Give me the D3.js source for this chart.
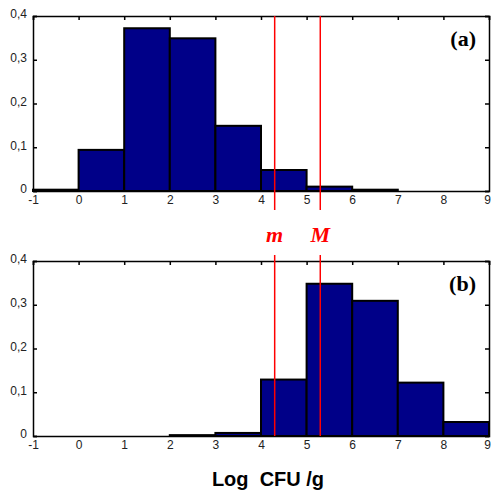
<!DOCTYPE html>
<html><head><meta charset="utf-8">
<script src="https://cdn.jsdelivr.net/npm/d3@7"></script>
<style>body{margin:0;background:#fff}svg{display:block}</style>
</head><body>
<script>
const binStarts = [-1,0,1,2,3,4,5,6,7,8];
const valuesA = [0.003,0.094,0.372,0.349,0.149,0.048,0.010,0.003,0,0];
const valuesB = [0,0,0,0.002,0.007,0.129,0.348,0.309,0.122,0.032];
const xTicks = [-1,0,1,2,3,4,5,6,7,8,9];
const xTickLabels = ["-1","0","1","2","3","4","5","6","7","8","9"];
const yTicks = [0,0.1,0.2,0.3,0.4];
const yTickLabels = ["0","0,1","0,2","0,3","0,4"];
const limits = [{name:"m", value:4.3},{name:"M", value:5.3}];
const panelLabels = ["(a)","(b)"];
const xTitle = "Log\u00a0 CFU /g";

const W=491,H=490;
const svg=d3.select("body").append("svg").attr("width",W).attr("height",H);
const x=d3.scaleLinear().domain([-1,9]).range([33,489]);
const panels=[{vals:valuesA,top:16,bottom:191,label:panelLabels[0]},
              {vals:valuesB,top:261,bottom:436,label:panelLabels[1]}];

panels.forEach(p=>{
  const y=d3.scaleLinear().domain([0,0.4]).range([p.bottom,p.top]);
  const g=svg.append("g");
  g.selectAll("rect.bar").data(binStarts.map((s,i)=>({s,v:p.vals[i]})).filter(d=>d.v>0))
    .join("rect").attr("class","bar")
    .attr("x",d=>x(d.s)).attr("width",d=>x(d.s+1)-x(d.s))
    .attr("y",d=>y(d.v)).attr("height",d=>y(0)-y(d.v))
    .attr("fill","#000088").attr("stroke","#000").attr("stroke-width",2);
  const ax=g.append("g").attr("transform",`translate(0,${p.bottom})`)
    .call(d3.axisBottom(x).tickValues(xTicks).tickSize(0).tickPadding(4).tickFormat((d,i)=>xTickLabels[i]));
  const at=g.append("g").attr("transform",`translate(0,${p.top})`)
    .call(d3.axisTop(x).tickValues(xTicks).tickSize(-4).tickFormat(""));
  const al=g.append("g").attr("transform",`translate(${x(-1)},0)`)
    .call(d3.axisLeft(y).tickValues(yTicks).tickSize(-4).tickPadding(6).tickFormat((d,i)=>yTickLabels[i]));
  const ar=g.append("g").attr("transform",`translate(${x(9)},0)`)
    .call(d3.axisRight(y).tickValues(yTicks).tickSize(-4).tickFormat(""));
  [ax,at,al,ar].forEach(a=>{
    a.select(".domain").attr("stroke","#000").attr("stroke-width",1.5);
    a.selectAll(".tick line").attr("stroke","#000").attr("stroke-width",1.5);
    a.selectAll("text").attr("font-family","Liberation Sans, Arial, sans-serif").attr("font-size",12).attr("fill","#222");
  });
  al.selectAll(".tick text").attr("dy","0.15em");
  ax.selectAll(".tick text").filter((d,i)=>i===xTicks.length-1).attr("dx","-2");
  g.append("text").attr("x",476).attr("y",p.top+30).attr("text-anchor","end")
    .attr("font-family","Liberation Serif, Times New Roman, serif").attr("font-weight","bold")
    .attr("font-size",22).text(p.label);
});

limits.forEach(l=>{
  svg.append("line").attr("x1",x(l.value)).attr("x2",x(l.value)).attr("y1",16).attr("y2",210)
    .attr("stroke","#ff0000").attr("stroke-width",1.5);
  svg.append("line").attr("x1",x(l.value)).attr("x2",x(l.value)).attr("y1",255).attr("y2",436)
    .attr("stroke","#ff0000").attr("stroke-width",1.5);
  svg.append("text").attr("x",x(l.value)).attr("y",242).attr("text-anchor","middle")
    .attr("font-family","Liberation Serif, Times New Roman, serif").attr("font-weight","bold")
    .attr("font-style","italic").attr("font-size",22).attr("fill","#ff0000").text(l.name);
});

svg.append("text").attr("x",268).attr("y",486).attr("text-anchor","middle")
  .attr("font-family","Liberation Sans, Arial, sans-serif").attr("font-weight","bold")
  .attr("font-size",20).attr("fill","#000").text(xTitle);
</script>
</body></html>
